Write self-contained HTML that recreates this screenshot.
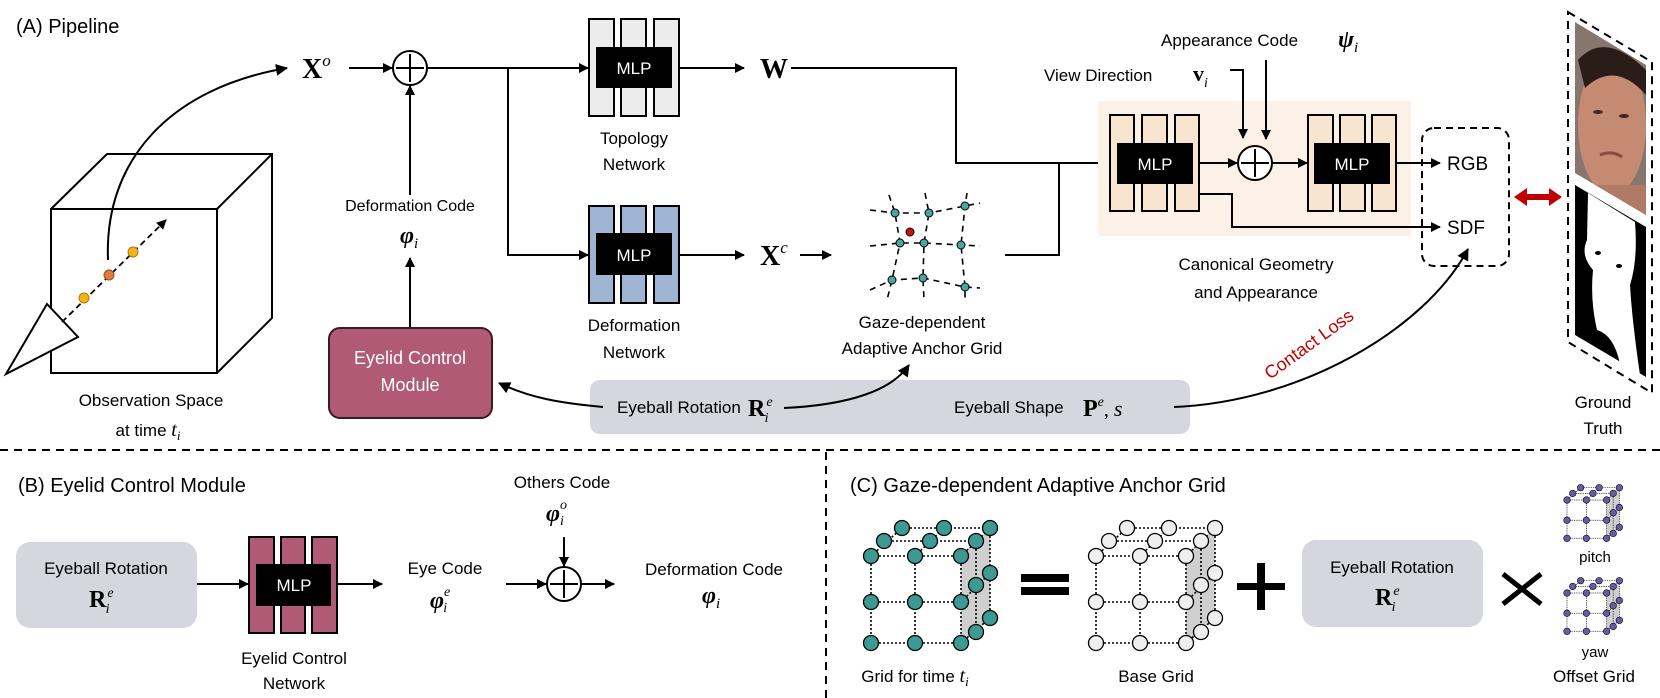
<!DOCTYPE html>
<html><head><meta charset="utf-8"><style>
html,body{margin:0;padding:0;background:#fff;}
svg{display:block;}
text{font-family:"Liberation Sans",sans-serif;fill:#000;}
.m{font-family:"Liberation Serif",serif;}
</style></head><body>
<svg width="1660" height="698" viewBox="0 0 1660 698" xmlns="http://www.w3.org/2000/svg">
<defs>
<marker id="ar" markerWidth="10" markerHeight="10" refX="9" refY="5" orient="auto" markerUnits="userSpaceOnUse"><path d="M0,0 L10,5 L0,10 z" fill="#000"/></marker>
<marker id="ar2" markerWidth="12" markerHeight="12" refX="11" refY="6" orient="auto" markerUnits="userSpaceOnUse"><path d="M0,0 L12,6 L0,12 z" fill="#000"/></marker>
<clipPath id="faceclip"><polygon points="1575,22 1646,65 1646,215 1575,173"/></clipPath>
<g id="grid">
  <polygon points="90,0 119,-28 119,62 90,87" fill="#cfcfcf"/>
  <g stroke="#000" stroke-width="1.6" stroke-dasharray="2,2" fill="none">
    <path d="M0,0H90M0,46H90M0,87H90M0,0V87M44,0V87M90,0V87"/>
    <path d="M13,-15H105M31,-28H119M0,0L31,-28M44,0L73,-28M90,0L119,-28"/>
    <path d="M105,-15V76M119,-28V62M90,46L119,17M90,87L119,62"/>
  </g>
  <g fill="currentColor" stroke="#000" stroke-width="1.3">
    <circle cx="31" cy="-28" r="7.5"/><circle cx="73" cy="-28" r="7.5"/><circle cx="119" cy="-28" r="7.5"/>
    <circle cx="13" cy="-15" r="7.5"/><circle cx="59" cy="-15" r="7.5"/><circle cx="105" cy="-15" r="7.5"/>
    <circle cx="119" cy="17" r="7.5"/><circle cx="119" cy="62" r="7.5"/>
    <circle cx="105" cy="29" r="7.5"/><circle cx="105" cy="76" r="7.5"/>
    <circle cx="0" cy="0" r="7.5"/><circle cx="44" cy="0" r="7.5"/><circle cx="90" cy="0" r="7.5"/>
    <circle cx="0" cy="46" r="7.5"/><circle cx="44" cy="46" r="7.5"/><circle cx="90" cy="46" r="7.5"/>
    <circle cx="0" cy="87" r="7.5"/><circle cx="44" cy="87" r="7.5"/><circle cx="90" cy="87" r="7.5"/>
  </g>
</g>
</defs>

<!-- ===== (A) ===== -->
<text x="16" y="33" font-size="20">(A) Pipeline</text>

<g stroke="#000" stroke-width="2" fill="none">
  <rect x="51" y="209" width="166" height="164" fill="#fff"/>
  <path d="M51,209L107,154H272V318L217,373M217,209L272,154"/>
</g>
<polygon points="6,374 47,304 78,337" fill="#fff" stroke="#000" stroke-width="2"/>
<line x1="62" y1="322" x2="166" y2="220" stroke="#000" stroke-width="1.8" stroke-dasharray="6,4" marker-end="url(#ar)"/>
<circle cx="84" cy="298" r="5" fill="#f2b21a" stroke="#b07a00"/>
<circle cx="109" cy="275" r="5" fill="#e07a3c" stroke="#a04a10"/>
<circle cx="133" cy="252" r="5" fill="#f2b21a" stroke="#b07a00"/>
<path d="M108,260 C104,160 170,88 287,68" stroke="#000" stroke-width="2" fill="none" marker-end="url(#ar2)"/>
<text x="151" y="406" font-size="17" text-anchor="middle">Observation Space</text>
<text x="148" y="436" font-size="17" text-anchor="middle">at time <tspan class="m" font-style="italic" font-size="20">t</tspan><tspan class="m" font-style="italic" font-size="13" dy="4">i</tspan></text>

<text x="302" y="78" class="m" font-size="28" font-weight="bold">X<tspan font-size="17" font-weight="normal" font-style="italic" dy="-12">o</tspan></text>
<line x1="349" y1="68" x2="392" y2="68" stroke="#000" stroke-width="2" marker-end="url(#ar)"/>
<circle cx="410" cy="68" r="17" fill="#fff" stroke="#000" stroke-width="2"/>
<path d="M396,68H424M410,54V82" stroke="#000" stroke-width="2"/>
<line x1="410" y1="195" x2="410" y2="86" stroke="#000" stroke-width="2" marker-end="url(#ar)"/>
<text x="410" y="211" font-size="16" text-anchor="middle">Deformation Code</text>
<text x="400" y="243" class="m" font-size="24" font-weight="bold" font-style="italic">φ<tspan font-size="15" font-weight="normal" dy="5">i</tspan></text>
<line x1="410" y1="328" x2="410" y2="258" stroke="#000" stroke-width="2" marker-end="url(#ar)"/>
<path d="M428,68H587M508,68V255H587" stroke="#000" stroke-width="2" fill="none"/>
<line x1="560" y1="68" x2="588" y2="68" stroke="#000" stroke-width="2" marker-end="url(#ar)"/>
<line x1="560" y1="255" x2="588" y2="255" stroke="#000" stroke-width="2" marker-end="url(#ar)"/>

<g stroke="#000" stroke-width="2" fill="#ececec">
  <rect x="589" y="19" width="25" height="97"/><rect x="621" y="19" width="25" height="97"/><rect x="654" y="19" width="25" height="97"/>
</g>
<rect x="596" y="47" width="76" height="41" fill="#000"/>
<text x="634" y="74" font-size="17" text-anchor="middle" style="fill:#fff">MLP</text>
<text x="634" y="144" font-size="17" text-anchor="middle">Topology</text>
<text x="634" y="170" font-size="17" text-anchor="middle">Network</text>
<line x1="679" y1="68" x2="744" y2="68" stroke="#000" stroke-width="2" marker-end="url(#ar)"/>
<text x="760" y="78" class="m" font-size="28" font-weight="bold">W</text>

<g stroke="#000" stroke-width="2" fill="#9fb3d3">
  <rect x="589" y="206" width="25" height="97"/><rect x="621" y="206" width="25" height="97"/><rect x="654" y="206" width="25" height="97"/>
</g>
<rect x="596" y="233" width="76" height="42" fill="#000"/>
<text x="634" y="261" font-size="17" text-anchor="middle" style="fill:#fff">MLP</text>
<text x="634" y="331" font-size="17" text-anchor="middle">Deformation</text>
<text x="634" y="358" font-size="17" text-anchor="middle">Network</text>
<line x1="679" y1="255" x2="744" y2="255" stroke="#000" stroke-width="2" marker-end="url(#ar)"/>
<text x="760" y="265" class="m" font-size="28" font-weight="bold">X<tspan font-size="17" font-weight="normal" font-style="italic" dy="-12">c</tspan></text>
<line x1="800" y1="255" x2="831" y2="255" stroke="#000" stroke-width="2" marker-end="url(#ar)"/>

<g stroke="#000" stroke-width="1.6" stroke-dasharray="6,5" fill="none">
  <path d="M870,210 L895,213 L929,213 L965,206 L980,203"/>
  <path d="M870,246 L900,243 L924,243 L961,245 L980,246"/>
  <path d="M870,290 L892,280 L923,278 L965,287 L980,288"/>
  <path d="M889,195 L895,213 L900,243 L892,280 L887,300"/>
  <path d="M925,193 L929,213 L924,243 L923,278 L924,300"/>
  <path d="M967,193 L965,206 L961,245 L965,287 L965,300"/>
</g>
<g fill="#4aa5a0" stroke="#000" stroke-width="1">
  <circle cx="895" cy="213" r="4"/><circle cx="929" cy="213" r="4"/><circle cx="965" cy="206" r="4"/>
  <circle cx="900" cy="243" r="4"/><circle cx="924" cy="243" r="4"/><circle cx="961" cy="245" r="4"/>
  <circle cx="892" cy="280" r="4"/><circle cx="923" cy="278" r="4"/><circle cx="965" cy="287" r="4"/>
</g>
<circle cx="910" cy="232" r="4" fill="#d01010" stroke="#000" stroke-width="1"/>
<text x="922" y="328" font-size="17" text-anchor="middle">Gaze-dependent</text>
<text x="922" y="354" font-size="17" text-anchor="middle">Adaptive Anchor Grid</text>

<path d="M791,68H956V163H1106M1005,255H1059V163" stroke="#000" stroke-width="2" fill="none"/>
<line x1="1080" y1="163" x2="1109" y2="163" stroke="#000" stroke-width="2" marker-end="url(#ar)"/>

<rect x="1098" y="101" width="313" height="135" fill="#fbf1e6"/>
<g stroke="#000" stroke-width="2" fill="#f7e5d0">
  <rect x="1110" y="115" width="24" height="96"/><rect x="1142" y="115" width="25" height="96"/><rect x="1175" y="115" width="24" height="96"/>
  <rect x="1308" y="115" width="25" height="96"/><rect x="1340" y="115" width="25" height="96"/><rect x="1372" y="115" width="24" height="96"/>
</g>
<rect x="1117" y="143" width="76" height="41" fill="#000"/>
<rect x="1314" y="143" width="76" height="41" fill="#000"/>
<text x="1155" y="170" font-size="17" text-anchor="middle" style="fill:#fff">MLP</text>
<text x="1352" y="170" font-size="17" text-anchor="middle" style="fill:#fff">MLP</text>
<line x1="1199" y1="163" x2="1237" y2="163" stroke="#000" stroke-width="2" marker-end="url(#ar)"/>
<circle cx="1255" cy="163" r="17" fill="#fff" stroke="#000" stroke-width="2"/>
<path d="M1241,163H1269M1255,149V177" stroke="#000" stroke-width="2"/>
<line x1="1272" y1="163" x2="1307" y2="163" stroke="#000" stroke-width="2" marker-end="url(#ar)"/>
<line x1="1396" y1="163" x2="1440" y2="163" stroke="#000" stroke-width="2" marker-end="url(#ar)"/>
<path d="M1199,194H1232V227H1430" stroke="#000" stroke-width="2" fill="none"/>
<line x1="1420" y1="227" x2="1440" y2="227" stroke="#000" stroke-width="2" marker-end="url(#ar)"/>
<text x="1447" y="170" font-size="19">RGB</text>
<text x="1447" y="234" font-size="19">SDF</text>
<rect x="1422" y="128" width="87" height="138" rx="12" fill="none" stroke="#000" stroke-width="2" stroke-dasharray="7,5"/>
<text x="1256" y="270" font-size="17" text-anchor="middle">Canonical Geometry</text>
<text x="1256" y="298" font-size="17" text-anchor="middle">and Appearance</text>

<text x="1044" y="81" font-size="17">View Direction</text>
<text x="1193" y="81" class="m" font-size="22" font-weight="bold">v<tspan font-size="14" font-weight="normal" font-style="italic" dy="6">i</tspan></text>
<path d="M1230,70H1243V138" stroke="#000" stroke-width="2" fill="none" marker-end="url(#ar)"/>
<text x="1161" y="46" font-size="17">Appearance Code</text>
<text x="1338" y="47" class="m" font-size="24" font-weight="bold" font-style="italic">ψ<tspan font-size="15" font-weight="normal" dy="5">i</tspan></text>
<line x1="1266" y1="60" x2="1266" y2="139" stroke="#000" stroke-width="2" marker-end="url(#ar)"/>

<g fill="#c00000">
  <rect x="1524" y="194" width="28" height="6"/>
  <polygon points="1514,197 1527,188 1527,206"/>
  <polygon points="1562,197 1549,188 1549,206"/>
</g>

<!-- ground truth -->
<g clip-path="url(#faceclip)">
  <rect x="1575" y="22" width="71" height="193" fill="#86766e"/>
  <ellipse cx="1612" cy="125" rx="34" ry="70" fill="#c48a72"/>
  <path d="M1578,60 Q1605,30 1646,70 L1646,95 Q1615,60 1585,88 z" fill="#2a1c18"/>
  <ellipse cx="1598" cy="112" rx="5" ry="2" fill="#3a2a22"/><ellipse cx="1624" cy="116" rx="5" ry="2" fill="#3a2a22"/>
  <path d="M1600,155 Q1612,150 1622,157" stroke="#8a4a40" stroke-width="3" fill="none"/>
  <rect x="1575" y="185" width="71" height="30" fill="#b07a66"/>
</g>
<polygon points="1575,185 1646,227 1646,377 1575,335" fill="#000"/>
<path d="M1588,193 L1635,222 Q1638,260 1630,285 Q1632,320 1640,375 L1620,364 Q1614,335 1597,330 Q1590,300 1593,270 Q1580,255 1587,240 Z" fill="#fff"/>
<ellipse cx="1598" cy="253" rx="3" ry="2" fill="#000"/><ellipse cx="1619" cy="266" rx="3" ry="2" fill="#000"/>
<polygon points="1568,12 1652,62 1652,393 1568,342" fill="none" stroke="#000" stroke-width="2" stroke-dasharray="8,6"/>
<text x="1603" y="408" font-size="17" text-anchor="middle">Ground</text>
<text x="1603" y="434" font-size="17" text-anchor="middle">Truth</text>

<rect x="590" y="380" width="600" height="54" rx="10" fill="#d6d6de"/>
<text x="617" y="413" font-size="17">Eyeball Rotation</text>
<text x="748" y="416" class="m" font-size="24" font-weight="bold">R<tspan font-size="14" font-weight="normal" font-style="italic" dx="1" dy="-10">e</tspan><tspan font-size="14" font-weight="normal" font-style="italic" dx="-8" dy="16">i</tspan></text>
<text x="954" y="413" font-size="17">Eyeball Shape</text>
<text x="1083" y="416" class="m" font-size="24" font-weight="bold">P<tspan font-size="14" font-weight="normal" font-style="italic" dy="-10">e</tspan><tspan font-size="20" font-weight="normal" dy="10">, </tspan><tspan font-size="22" font-weight="normal" font-style="italic">s</tspan></text>
<rect x="329" y="328" width="163" height="90" rx="11" fill="#b05a75" stroke="#3a1a25" stroke-width="2"/>
<text x="410" y="364" font-size="18" text-anchor="middle" style="fill:#fff">Eyelid Control</text>
<text x="410" y="391" font-size="18" text-anchor="middle" style="fill:#fff">Module</text>
<path d="M603,407 C560,403 530,398 499,383" stroke="#000" stroke-width="2" fill="none" marker-end="url(#ar2)"/>
<path d="M784,408 C850,405 892,390 909,365" stroke="#000" stroke-width="2" fill="none" marker-end="url(#ar2)"/>
<path d="M1174,407 C1300,402 1425,330 1468,249" stroke="#000" stroke-width="2" fill="none" marker-end="url(#ar2)"/>
<text x="1270" y="380" font-size="18" transform="rotate(-36 1270 380)" style="fill:#c00000">Contact Loss</text>

<line x1="0" y1="450" x2="1660" y2="450" stroke="#000" stroke-width="2" stroke-dasharray="8,6"/>
<line x1="826" y1="452" x2="826" y2="698" stroke="#000" stroke-width="2" stroke-dasharray="8,6"/>

<!-- ===== (B) ===== -->
<text x="18" y="492" font-size="20">(B) Eyelid Control Module</text>
<rect x="16" y="542" width="181" height="86" rx="14" fill="#d6d6de"/>
<text x="106" y="574" font-size="17" text-anchor="middle">Eyeball Rotation</text>
<text x="89" y="607" class="m" font-size="24" font-weight="bold">R<tspan font-size="14" font-weight="normal" font-style="italic" dx="1" dy="-10">e</tspan><tspan font-size="14" font-weight="normal" font-style="italic" dx="-8" dy="16">i</tspan></text>
<line x1="197" y1="584" x2="248" y2="584" stroke="#000" stroke-width="2" marker-end="url(#ar)"/>
<g stroke="#000" stroke-width="2" fill="#b05a75">
  <rect x="249" y="537" width="25" height="96"/><rect x="281" y="537" width="24" height="96"/><rect x="312" y="537" width="25" height="96"/>
</g>
<rect x="256" y="564" width="75" height="42" fill="#000"/>
<text x="294" y="591" font-size="17" text-anchor="middle" style="fill:#fff">MLP</text>
<text x="294" y="664" font-size="17" text-anchor="middle">Eyelid Control</text>
<text x="294" y="689" font-size="17" text-anchor="middle">Network</text>
<line x1="337" y1="584" x2="382" y2="584" stroke="#000" stroke-width="2" marker-end="url(#ar)"/>
<text x="445" y="574" font-size="17" text-anchor="middle">Eye Code</text>
<text x="430" y="608" class="m" font-size="24" font-weight="bold" font-style="italic">φ<tspan font-size="14" font-weight="normal" dy="-12">e</tspan><tspan font-size="14" font-weight="normal" dx="-7" dy="16">i</tspan></text>
<line x1="506" y1="584" x2="546" y2="584" stroke="#000" stroke-width="2" marker-end="url(#ar)"/>
<circle cx="564" cy="584" r="17" fill="#fff" stroke="#000" stroke-width="2"/>
<path d="M550,584H578M564,570V598" stroke="#000" stroke-width="2"/>
<text x="562" y="488" font-size="17" text-anchor="middle">Others Code</text>
<text x="546" y="521" class="m" font-size="24" font-weight="bold" font-style="italic">φ<tspan font-size="14" font-weight="normal" dy="-12">o</tspan><tspan font-size="14" font-weight="normal" dx="-7" dy="16">i</tspan></text>
<line x1="564" y1="537" x2="564" y2="566" stroke="#000" stroke-width="2" marker-end="url(#ar)"/>
<line x1="581" y1="584" x2="614" y2="584" stroke="#000" stroke-width="2" marker-end="url(#ar)"/>
<text x="714" y="575" font-size="17" text-anchor="middle">Deformation Code</text>
<text x="702" y="603" class="m" font-size="24" font-weight="bold" font-style="italic">φ<tspan font-size="15" font-weight="normal" dy="5">i</tspan></text>

<!-- ===== (C) ===== -->
<text x="850" y="492" font-size="20">(C) Gaze-dependent Adaptive Anchor Grid</text>
<use href="#grid" transform="translate(871,556)" color="#3d9a92"/>
<rect x="1021" y="574" width="48" height="8" fill="#000"/>
<rect x="1021" y="587" width="48" height="8" fill="#000"/>
<use href="#grid" transform="translate(1096,556)" color="#efefef"/>
<rect x="1237" y="583" width="48" height="7" fill="#000"/>
<rect x="1257" y="563" width="8" height="47" fill="#000"/>
<rect x="1302" y="540" width="181" height="87" rx="14" fill="#d6d6de"/>
<text x="1392" y="573" font-size="17" text-anchor="middle">Eyeball Rotation</text>
<text x="1375" y="605" class="m" font-size="24" font-weight="bold">R<tspan font-size="14" font-weight="normal" font-style="italic" dx="1" dy="-10">e</tspan><tspan font-size="14" font-weight="normal" font-style="italic" dx="-8" dy="16">i</tspan></text>
<path d="M1503,574L1541,604M1541,574L1503,604" stroke="#000" stroke-width="5"/>
<use href="#grid" transform="translate(1567,500) scale(0.44)" color="#6a5aa6"/>
<use href="#grid" transform="translate(1567,593) scale(0.44)" color="#6a5aa6"/>
<text x="1595" y="562" font-size="15" text-anchor="middle">pitch</text>
<text x="1595" y="657" font-size="15" text-anchor="middle">yaw</text>
<text x="915" y="682" font-size="17" text-anchor="middle">Grid for time <tspan class="m" font-style="italic" font-size="20">t</tspan><tspan class="m" font-style="italic" font-size="13" dy="4">i</tspan></text>
<text x="1156" y="682" font-size="17" text-anchor="middle">Base Grid</text>
<text x="1594" y="682" font-size="17" text-anchor="middle">Offset Grid</text>
</svg>
</body></html>
